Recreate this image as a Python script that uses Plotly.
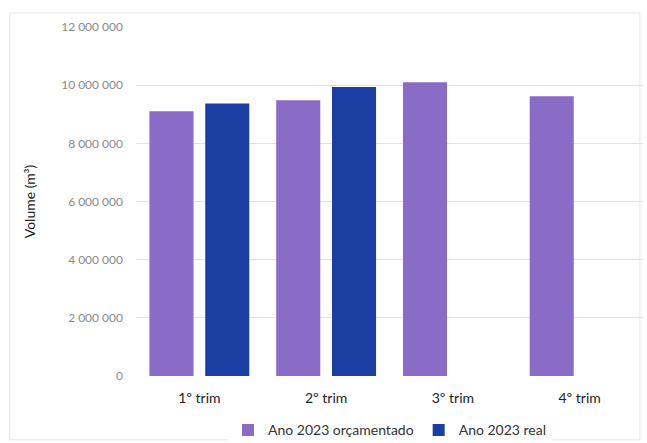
import plotly.graph_objects as go

categories = ["1º trim", "2º trim", "3º trim", "4º trim"]
orcamentado = [9100000, 9480000, 10100000, 9620000]
real = [9370000, 9940000, None, None]
tick_vals = [0, 2000000, 4000000, 6000000, 8000000, 10000000, 12000000]
tick_text = ["0", "2 000 000", "4 000 000", "6 000 000", "8 000 000", "10 000 000", "12 000 000"]

fig = go.Figure()
fig.add_trace(go.Bar(x=categories, y=orcamentado, name="Ano 2023 orçamentado",
                     marker=dict(color="#8A6CC6", line=dict(width=0))))
fig.add_trace(go.Bar(x=categories, y=real, name="Ano 2023 real",
                     marker=dict(color="#1B3EA2", line=dict(width=0))))

fig.update_layout(
    width=647, height=443,
    paper_bgcolor="white", plot_bgcolor="white",
    margin=dict(l=136, r=4, t=27, b=67, autoexpand=False),
    barmode="group", bargap=0.12, bargroupgap=0.21,
    font=dict(family="Lato", size=11, color="#333"),
    showlegend=True,
    legend=dict(orientation="h", x=0.5, xanchor="center", y=-0.11, yanchor="top",
                font=dict(size=14, color="#333"), itemwidth=30, traceorder="normal"),
    xaxis=dict(showgrid=False, showline=False, ticks="", automargin=False,
               tickfont=dict(size=14, color="#222"), ticklabelstandoff=12),
    yaxis=dict(range=[0, 12000000], tickvals=tick_vals, ticktext=tick_text, automargin=False,
               showgrid=True, gridcolor="#E2E2E2", gridwidth=1, zeroline=False,
               tickfont=dict(size=12, color="#8A8A8A"), ticklabelstandoff=12,
               title=dict(text="Volume (m³)", font=dict(size=14, color="#222"), standoff=22)),
    shapes=[dict(type="rect", xref="paper", yref="paper", x0=-0.249, x1=0.994, y0=-0.183, y1=1.04,
                 line=dict(color="#E6E6E6", width=1))]
)

fig.write_html("out.html")
